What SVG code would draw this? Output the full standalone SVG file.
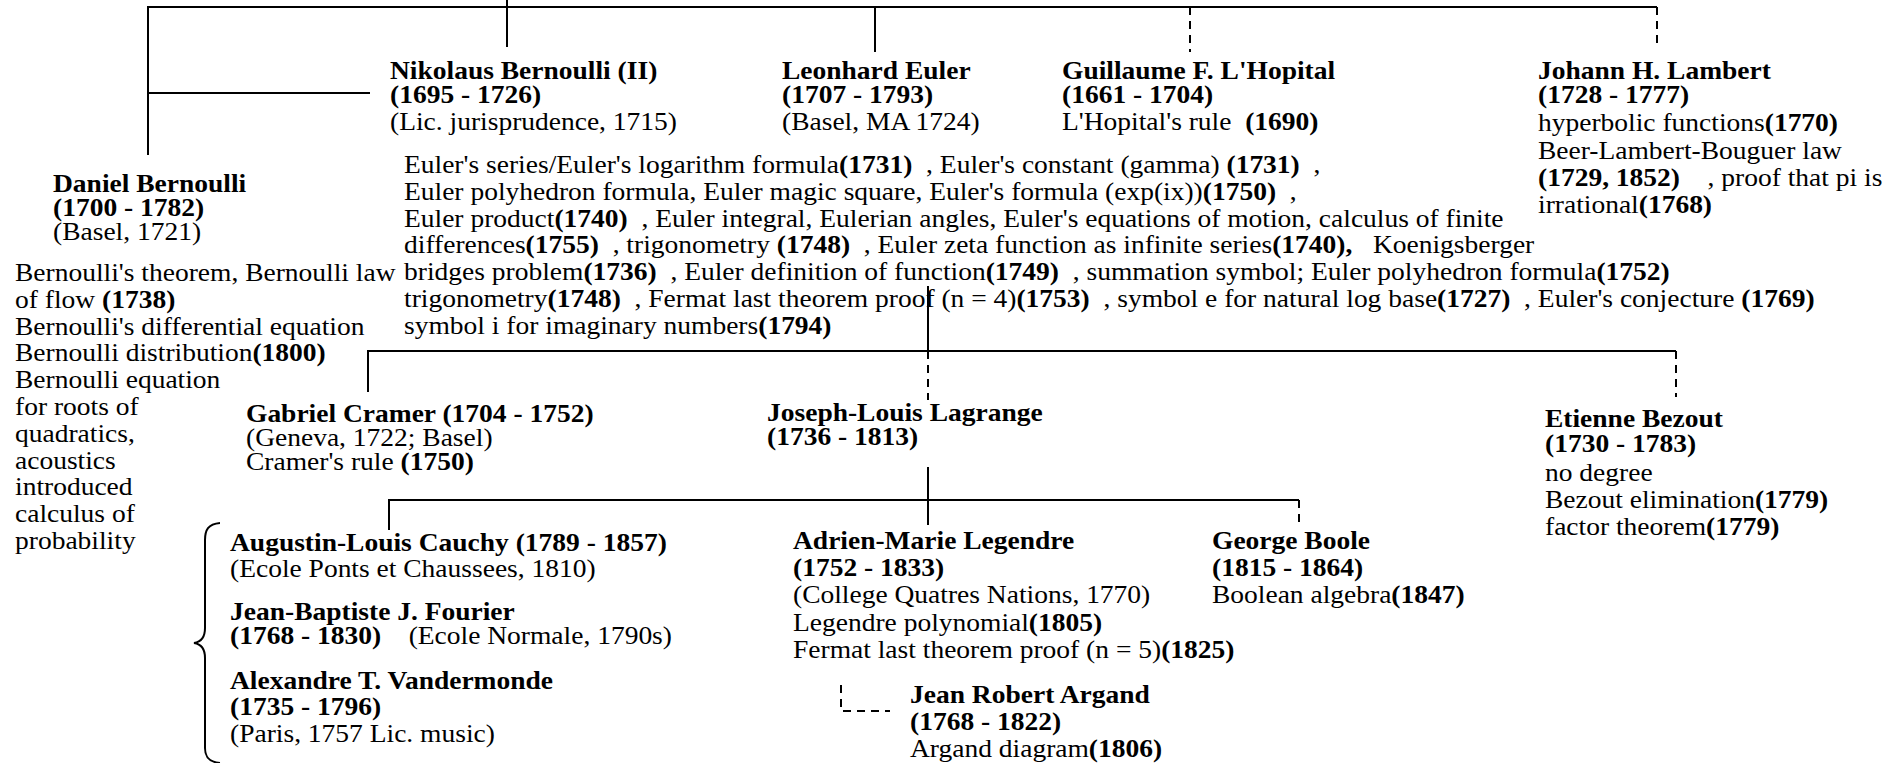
<svg xmlns="http://www.w3.org/2000/svg" width="1899" height="763" viewBox="0 0 1899 763">
<style>
text { font-family: "Liberation Serif", "Times New Roman", serif; font-size: 27.5px; fill: #000; white-space: pre; }
.b { font-weight: bold; }
.ln { stroke: #000; stroke-width: 2; fill: none; }
.dash { stroke-dasharray: 8 6; }
</style>
<rect x="0" y="0" width="1899" height="763" fill="#fff"/>
<g id="connectors">
  <path class="ln" d="M148,155 V7 H1657"/>
  <path class="ln dash" d="M1657,7 V45"/>
  <path class="ln" d="M148,93 H370"/>
  <path class="ln" d="M507,0 V47"/>
  <path class="ln" d="M875,7 V52"/>
  <path class="ln dash" d="M1190,7 V52"/>
  <path class="ln" d="M368,392 V351 H1676"/>
  <path class="ln dash" d="M1676,351 V397"/>
  <path class="ln" d="M928,286 V351"/>
  <path class="ln dash" d="M928,351 V400"/>
  <path class="ln" d="M928,467 V525"/>
  <path class="ln" d="M389,530 V500 H1299"/>
  <path class="ln dash" d="M1299,500 V527"/>
  <path class="ln dash" d="M841,685 V711 H890"/>
  <path class="ln" d="M220,523 C208,524 205,530 205,540 L205,628 C205,637 201,642 194,643 C201,644 205,649 205,658 L205,748 C205,756 208,762 220,763"/>
</g>
<g id="n-daniel">
  <g transform="translate(53,192) scale(1,0.88)">
    <text y="0" class="b">Daniel Bernoulli</text>
    <text y="27.3" class="b">(1700 - 1782)</text>
    <text y="54.5">(Basel, 1721)</text>
  </g>
  <g transform="translate(15,281) scale(1,0.88)">
    <text y="0">Bernoulli's theorem, Bernoulli law</text>
    <text y="30.45">of flow <tspan class="b">(1738)</tspan></text>
    <text y="60.9">Bernoulli's differential equation</text>
    <text y="91.35">Bernoulli distribution<tspan class="b">(1800)</tspan></text>
    <text y="121.8">Bernoulli equation</text>
    <text y="152.25">for roots of</text>
    <text y="182.7">quadratics,</text>
    <text y="213.15">acoustics</text>
    <text y="243.6">introduced</text>
    <text y="274.05">calculus of</text>
    <text y="304.5">probability</text>
  </g>
</g>
<g id="n-nikolaus">
  <g transform="translate(390,79) scale(1,0.88)">
    <text y="0" class="b">Nikolaus Bernoulli (II)</text>
    <text y="27.3" class="b">(1695 - 1726)</text>
    <text y="58">(Lic. jurisprudence, 1715)</text>
  </g>
</g>
<g id="n-euler">
  <g transform="translate(782,79) scale(1,0.88)">
    <text y="0" class="b">Leonhard Euler</text>
    <text y="27.3" class="b">(1707 - 1793)</text>
    <text y="58">(Basel, MA 1724)</text>
  </g>
  <g transform="translate(404,173) scale(1,0.88)">
    <text y="0">Euler's series/Euler's logarithm formula<tspan class="b">(1731)</tspan>  , Euler's constant (gamma) <tspan class="b">(1731)</tspan>  ,</text>
    <text y="30.4">Euler polyhedron formula, Euler magic square, Euler's formula (exp(ix))<tspan class="b">(1750)</tspan>  ,</text>
    <text y="60.8">Euler product<tspan class="b">(1740)</tspan>  , Euler integral, Eulerian angles, Euler's equations of motion, calculus of finite</text>
    <text y="91.2">differences<tspan class="b">(1755)</tspan>  , trigonometry <tspan class="b">(1748)</tspan>  , Euler zeta function as infinite series<tspan class="b">(1740),</tspan>   Koenigsberger</text>
    <text y="121.6">bridges problem<tspan class="b">(1736)</tspan>  , Euler definition of function<tspan class="b">(1749)</tspan>  , summation symbol; Euler polyhedron formula<tspan class="b">(1752)</tspan></text>
    <text y="152">trigonometry<tspan class="b">(1748)</tspan>  , Fermat last theorem proof (n = 4)<tspan class="b">(1753)</tspan>  , symbol e for natural log base<tspan class="b">(1727)</tspan>  , Euler's conjecture <tspan class="b">(1769)</tspan></text>
    <text y="182.4">symbol i for imaginary numbers<tspan class="b">(1794)</tspan></text>
  </g>
</g>
<g id="n-lhopital">
  <g transform="translate(1062,79) scale(1,0.88)">
    <text y="0" class="b">Guillaume F. L'Hopital</text>
    <text y="27.3" class="b">(1661 - 1704)</text>
    <text y="58">L'Hopital's rule  <tspan class="b">(1690)</tspan></text>
  </g>
</g>
<g id="n-lambert">
  <g transform="translate(1538,79) scale(1,0.88)">
    <text y="0" class="b">Johann H. Lambert</text>
    <text y="27.3" class="b">(1728 - 1777)</text>
    <text y="59">hyperbolic functions<tspan class="b">(1770)</tspan></text>
    <text y="90.5">Beer-Lambert-Bouguer law</text>
    <text y="121.5"><tspan class="b">(1729, 1852)</tspan>    , proof that pi is</text>
    <text y="152.5">irrational<tspan class="b">(1768)</tspan></text>
  </g>
</g>
<g id="n-cramer">
  <g transform="translate(246,422) scale(1,0.88)">
    <text y="0" class="b">Gabriel Cramer (1704 - 1752)</text>
    <text y="27.3">(Geneva, 1722; Basel)</text>
    <text y="54.5">Cramer's rule <tspan class="b">(1750)</tspan></text>
  </g>
</g>
<g id="n-lagrange">
  <g transform="translate(767,421) scale(1,0.88)">
    <text y="0" class="b">Joseph-Louis Lagrange</text>
    <text y="27.3" class="b">(1736 - 1813)</text>
  </g>
</g>
<g id="n-bezout">
  <g transform="translate(1545,427) scale(1,0.88)">
    <text y="0" class="b">Etienne Bezout</text>
    <text y="28.4" class="b">(1730 - 1783)</text>
    <text y="61.4">no degree</text>
    <text y="92">Bezout elimination<tspan class="b">(1779)</tspan></text>
    <text y="122.7">factor theorem<tspan class="b">(1779)</tspan></text>
  </g>
</g>
<g id="n-cauchy">
  <g transform="translate(230,551) scale(1,0.88)">
    <text y="0" class="b">Augustin-Louis Cauchy (1789 - 1857)</text>
    <text y="29.5">(Ecole Ponts et Chaussees, 1810)</text>
  </g>
</g>
<g id="n-fourier">
  <g transform="translate(230,620) scale(1,0.88)">
    <text y="0" class="b">Jean-Baptiste J. Fourier</text>
    <text y="27.3"><tspan class="b">(1768 - 1830)</tspan>    (Ecole Normale, 1790s)</text>
  </g>
</g>
<g id="n-vandermonde">
  <g transform="translate(230,689) scale(1,0.88)">
    <text y="0" class="b">Alexandre T. Vandermonde</text>
    <text y="29.5" class="b">(1735 - 1796)</text>
    <text y="60.2">(Paris, 1757 Lic. music)</text>
  </g>
</g>
<g id="n-legendre">
  <g transform="translate(793,549) scale(1,0.88)">
    <text y="0" class="b">Adrien-Marie Legendre</text>
    <text y="30.7" class="b">(1752 - 1833)</text>
    <text y="61.4">(College Quatres Nations, 1770)</text>
    <text y="93.2">Legendre polynomial<tspan class="b">(1805)</tspan></text>
    <text y="123.9">Fermat last theorem proof (n = 5)<tspan class="b">(1825)</tspan></text>
  </g>
</g>
<g id="n-boole">
  <g transform="translate(1212,549) scale(1,0.88)">
    <text y="0" class="b">George Boole</text>
    <text y="30.7" class="b">(1815 - 1864)</text>
    <text y="61.4">Boolean algebra<tspan class="b">(1847)</tspan></text>
  </g>
</g>
<g id="n-argand">
  <g transform="translate(910,703) scale(1,0.88)">
    <text y="0" class="b">Jean Robert Argand</text>
    <text y="30.7" class="b">(1768 - 1822)</text>
    <text y="61.4">Argand diagram<tspan class="b">(1806)</tspan></text>
  </g>
</g>
</svg>
